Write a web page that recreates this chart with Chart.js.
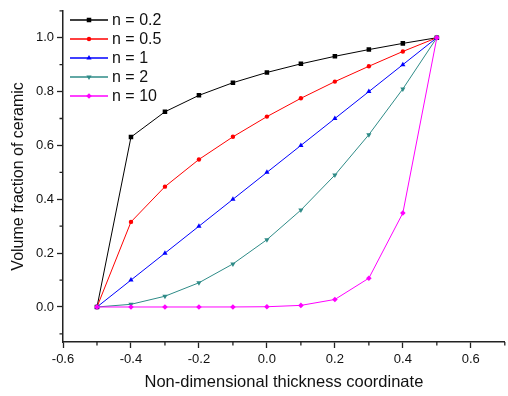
<!DOCTYPE html>
<html>
<head>
<meta charset="utf-8">
<script src="https://cdn.jsdelivr.net/npm/chart.js@4/dist/chart.umd.min.js"></script>
<style>
  html, body { margin: 0; padding: 0; background: #fff; }
  #wrap { position: relative; width: 508px; height: 396px; }
</style>
</head>
<body>
<div id="wrap"><canvas id="chart" width="508" height="396"></canvas></div>
<script>
// thickness coordinate z/h
var coords = [-0.5, -0.4, -0.3, -0.2, -0.1, 0.0, 0.1, 0.2, 0.3, 0.4, 0.5];

// volume fraction
var n02 = [0, 0.631, 0.725, 0.786, 0.833, 0.871, 0.903, 0.931, 0.956, 0.979, 1.0];
var n05 = [0, 0.316, 0.447, 0.548, 0.632, 0.707, 0.775, 0.837, 0.894, 0.949, 1.0];
var n1 = [0, 0.1, 0.2, 0.3, 0.4, 0.5, 0.6, 0.7, 0.8, 0.9, 1.0];
var n2 = [0, 0.01, 0.04, 0.09, 0.16, 0.25, 0.36, 0.49, 0.64, 0.81, 1.0];
var n10 = [0, 0, 0, 0, 0.0001, 0.001, 0.006, 0.028, 0.107, 0.349, 1.0];

var seriesNames = ["n = 0.2", "n = 0.5", "n = 1", "n = 2", "n = 10"];

var xMajor = [-0.6, -0.4, -0.2, 0.0, 0.2, 0.4, 0.6];
var xMinor = [-0.5, -0.3, -0.1, 0.1, 0.3, 0.5, 0.7];
var yMajor = [0.0, 0.2, 0.4, 0.6, 0.8, 1.0];
var yMinor = [-0.1, 0.1, 0.3, 0.5, 0.7, 0.9, 1.1];

function pts(vals) {
  return coords.map(function (x, i) { return { x: x, y: vals[i] }; });
}

var FONT = "'Liberation Sans', Arial, sans-serif";

function makeSet(label, vals, color, style, rot, radius, order) {
  return {
    label: label,
    data: pts(vals),
    borderColor: color,
    backgroundColor: color,
    borderWidth: 1,
    pointStyle: style,
    pointRotation: rot,
    pointRadius: radius,
    pointBorderWidth: 0,
    pointHoverRadius: radius,
    tension: 0,
    order: order,
  };
}

var datasets = [
  makeSet(seriesNames[0], n02, "#000000", "rect", 0, 3.2, 5),
  makeSet(seriesNames[1], n05, "#ff0000", "circle", 0, 2.2, 4),
  makeSet(seriesNames[2], n1, "#0000ff", "triangle", 0, 3, 3),
  makeSet(seriesNames[3], n2, "#2e8b87", "triangle", 180, 3, 2),
  makeSet(seriesNames[4], n10, "#ff00ff", "rectRot", 0, 2.8, 1),
];

// minor ticks and in-plot legend
var extras = {
  id: "extras",
  afterDraw: function (chart) {
    var ctx = chart.ctx;
    var xs = chart.scales.x, ys = chart.scales.y;
    var area = chart.chartArea;
    ctx.save();
    ctx.strokeStyle = "#222";
    ctx.lineWidth = 1.3;
    ctx.beginPath();
    xMinor.forEach(function (v) {
      var px = xs.getPixelForValue(v);
      ctx.moveTo(px, area.bottom);
      ctx.lineTo(px, area.bottom + 3.5);
    });
    yMinor.forEach(function (v) {
      var py = ys.getPixelForValue(v);
      ctx.moveTo(area.left, py);
      ctx.lineTo(area.left - 3.5, py);
    });
    ctx.stroke();

    // legend
    ctx.font = "16px " + FONT;
    ctx.textBaseline = "middle";
    ctx.textAlign = "left";
    chart.data.datasets.forEach(function (ds, i) {
      var y = 20 + i * 19;
      ctx.strokeStyle = ds.borderColor;
      ctx.lineWidth = 1.3;
      ctx.beginPath();
      ctx.moveTo(70, y);
      ctx.lineTo(108, y);
      ctx.stroke();
      ctx.fillStyle = ds.backgroundColor;
      Chart.helpers.drawPoint(ctx, {
        pointStyle: ds.pointStyle,
        rotation: ds.pointRotation,
        radius: ds.pointRadius,
        borderWidth: 0,
      }, 89, y);
      ctx.fillStyle = "#111";
      ctx.fillText(ds.label, 112, y + 1);
    });
    ctx.restore();
  },
};

new Chart(document.getElementById("chart"), {
  type: "line",
  data: { datasets: datasets },
  plugins: [extras],
  options: {
    responsive: false,
    animation: false,
    layout: { padding: { top: 9, right: 1, left: 0, bottom: 0 } },
    plugins: {
      legend: { display: false },
      tooltip: { enabled: false },
    },
    scales: {
      x: {
        type: "linear",
        min: -0.6,
        max: 0.7,
        afterBuildTicks: function (s) {
          s.ticks = xMajor.map(function (v) { return { value: v }; });
        },
        afterFit: function (s) { s.height = 54; },
        grid: {
          drawOnChartArea: false,
          drawTicks: true,
          tickLength: 6,
          tickColor: "#222",
          tickWidth: 1.3,
        },
        border: { display: true, color: "#222", width: 1.5 },
        ticks: {
          color: "#111",
          font: { family: FONT, size: 13 },
          padding: 4,
          maxRotation: 0,
          callback: function (v) { return v.toFixed(1); },
        },
        title: {
          display: true,
          text: "Non-dimensional thickness coordinate",
          color: "#111",
          font: { family: FONT, size: 16.5 },
          padding: { top: 4, bottom: 4 },
        },
      },
      y: {
        type: "linear",
        min: -0.13,
        max: 1.1,
        afterBuildTicks: function (s) {
          s.ticks = yMajor.map(function (v) { return { value: v }; });
        },
        afterFit: function (s) { s.width = 63; },
        grid: {
          drawOnChartArea: false,
          drawTicks: true,
          tickLength: 6,
          tickColor: "#222",
          tickWidth: 1.3,
        },
        border: { display: true, color: "#222", width: 1.5 },
        ticks: {
          color: "#111",
          font: { family: FONT, size: 13 },
          padding: 3,
          callback: function (v) { return v.toFixed(1); },
        },
        title: {
          display: true,
          text: "Volume fraction of ceramic",
          color: "#111",
          font: { family: FONT, size: 16 },
          padding: { top: 9, bottom: 0 },
        },
      },
    },
  },
});
</script>
</body>
</html>
